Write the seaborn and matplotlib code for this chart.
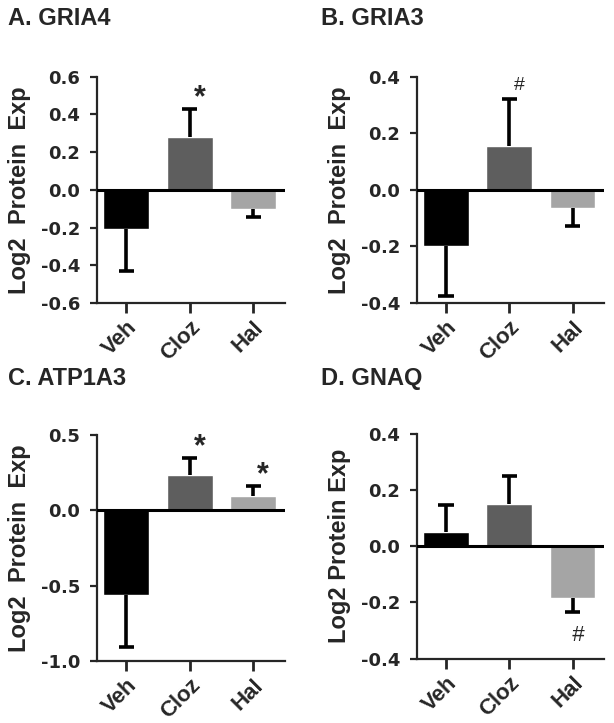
import numpy as np
import pandas as pd
import matplotlib
matplotlib.use("Agg")
import matplotlib.pyplot as plt
import seaborn as sns

sns.set_style("ticks")
plt.rcParams["font.family"] = ["Liberation Sans", "DejaVu Sans"]

GROUPS = ["Veh", "Cloz", "Hal"]
COLORS = ["#000000", "#5e5e5e", "#a5a5a5"]

GRIA4_MEAN = [-0.21, 0.28, -0.10]
GRIA4_SEM = [0.22, 0.15, 0.045]
GRIA4_SIG = ["", "*", ""]

GRIA3_MEAN = [-0.20, 0.155, -0.065]
GRIA3_SEM = [0.175, 0.165, 0.063]
GRIA3_SIG = ["", "#", ""]

ATP1A3_MEAN = [-0.565, 0.235, 0.095]
ATP1A3_SEM = [0.345, 0.115, 0.07]
ATP1A3_SIG = ["", "*", "*"]

GNAQ_MEAN = [0.052, 0.152, -0.183]
GNAQ_SEM = [0.096, 0.097, 0.052]
GNAQ_SIG = ["", "", "#"]

PANELS = [
    ("A. GRIA4", GRIA4_MEAN, GRIA4_SEM, GRIA4_SIG, (-0.6, 0.6), [-0.6, -0.4, -0.2, 0.0, 0.2, 0.4, 0.6], "Log2  Protein  Exp"),
    ("B. GRIA3", GRIA3_MEAN, GRIA3_SEM, GRIA3_SIG, (-0.4, 0.4), [-0.4, -0.2, 0.0, 0.2, 0.4], "Log2  Protein  Exp"),
    ("C. ATP1A3", ATP1A3_MEAN, ATP1A3_SEM, ATP1A3_SIG, (-1.0, 0.5), [-1.0, -0.5, 0.0, 0.5], "Log2  Protein  Exp"),
    ("D. GNAQ", GNAQ_MEAN, GNAQ_SEM, GNAQ_SIG, (-0.4, 0.4), [-0.4, -0.2, 0.0, 0.2, 0.4], "Log2 Protein Exp"),
]

# axes rectangles in figure fractions (left, bottom, width, height)
RECTS = [
    (0.158, 0.581, 0.306, 0.313),
    (0.679, 0.581, 0.305, 0.313),
    (0.158, 0.086, 0.306, 0.312),
    (0.679, 0.089, 0.305, 0.311),
]
TITLE_POS = [(0.013, 0.99), (0.522, 0.99), (0.013, 0.492), (0.522, 0.492)]

fig = plt.figure(figsize=(6.14, 7.23), dpi=100)
for (title, mean, sem, sig, ylim, yticks, ylab), rect, tpos in zip(PANELS, RECTS, TITLE_POS):
    ax = fig.add_axes(rect)
    df = pd.DataFrame({"group": GROUPS, "value": mean})
    sns.barplot(data=df, x="group", y="value", hue="group", palette=COLORS,
                legend=False, width=0.72, ax=ax, saturation=1, errorbar=None)
    m = np.array(mean); s = np.array(sem)
    x = np.arange(len(GROUPS))
    ends = np.where(m < 0, m - s, m + s)
    # one-sided error bars, cap only at the outer end
    ax.vlines(x, m, ends, color="black", lw=2.6, zorder=3)
    ax.hlines(ends, x - 0.12, x + 0.12, color="black", lw=2.6, zorder=3)
    for i, t in enumerate(sig):
        if not t:
            continue
        if m[i] >= 0:
            if t == "*":
                ax.annotate(t, (i, ends[i]), xytext=(7, -3), textcoords="offset points",
                            ha="center", va="bottom", fontsize=22, fontweight="bold")
            else:
                ax.annotate(t, (i, ends[i]), xytext=(7, 4), textcoords="offset points",
                            ha="center", va="bottom", fontsize=14)
        else:
            ax.annotate(t, (i, ends[i]), xytext=(4, -9), textcoords="offset points",
                        ha="center", va="top", fontsize=16, style="italic")
    ax.axhline(0, color="black", lw=2.2, zorder=4)
    ax.set_ylim(*ylim)
    ax.set_yticks(yticks)
    ax.set_yticklabels([f"{v:.1f}" for v in yticks], family="DejaVu Sans",
                       fontsize=13, fontweight="bold")
    ax.set_xlim(-0.46, 2.5)
    ax.set_xlabel("")
    ax.set_ylabel(ylab, fontsize=17, fontweight="bold", labelpad=7)
    ax.set_xticks(x)
    ax.set_xticklabels(GROUPS, rotation=45, ha="right", rotation_mode="anchor",
                       fontsize=16, fontweight="bold")
    sns.despine(ax=ax)
    for sp in ("left", "bottom"):
        ax.spines[sp].set_linewidth(1.6)
    ax.tick_params(axis="y", length=5, width=1.6, pad=7)
    ax.tick_params(axis="x", length=7, width=2.0, pad=3)
    fig.text(tpos[0], tpos[1], title, fontsize=17, fontweight="bold", va="top", ha="left")

plt.savefig("out.png", dpi=100)
plt.close()
